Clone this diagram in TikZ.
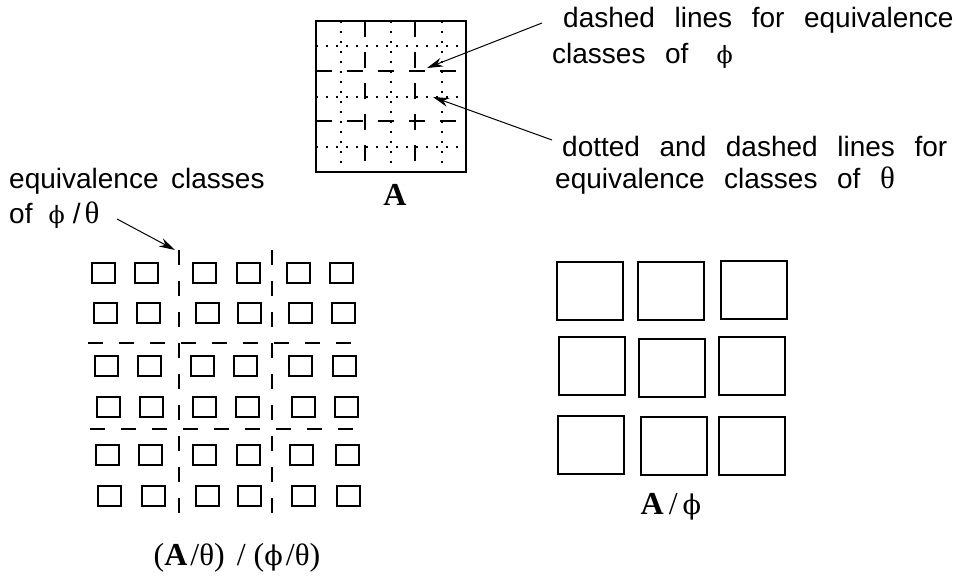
\documentclass[tikz,border=0pt]{standalone}
\usepackage{fontspec}
\setmainfont{Liberation Sans}
\newfontfamily\serifA{Liberation Serif}
\newfontfamily\grk{DejaVu Serif}[Scale=0.85]
\usetikzlibrary{arrows.meta}
\newcommand{\myphi}{{\grk ϕ}}
\newcommand{\mytheta}{{\serifA\fontsize{31}{36}\selectfont θ}}
\newcommand{\widesp}{\spaceskip=0.7em\relax}
\newcommand{\midsp}{\spaceskip=0.45em\relax}
\tikzset{
  lbl/.style={anchor=base west, inner sep=0pt, font=\fontsize{28}{36}\selectfont\widesp},
  lbll/.style={anchor=base west, inner sep=0pt, font=\fontsize{28}{36}\selectfont\midsp},
  serlbl/.style={anchor=base, inner sep=0pt, font=\fontsize{32}{38}\selectfont\serifA},
  frame/.style={line width=2.6pt},
  phidash/.style={line width=2.4pt, dash pattern=on 16pt off 15pt},
  thetadot/.style={line width=1.6pt, dash pattern=on 1.6pt off 8.4pt},
  griddash/.style={line width=2.2pt, dash pattern=on 15pt off 16pt},
  sq/.style={line width=2pt},
  bigsq/.style={line width=2.2pt},
  arr/.style={line width=1pt, -{Stealth[length=16pt,width=9pt]}},
}
\begin{document}
\begin{tikzpicture}[x=1pt,y=-1pt]
\useasboundingbox (0,0) rectangle (956,579);
% ---------- box A ----------
\foreach \v in {341,391,442} \draw[thetadot] (\v,21) -- (\v,172);
\foreach \h in {46,97,147} \draw[thetadot] (316,\h) -- (466,\h);
\foreach \v in {365,415} \draw[phidash] (\v,21) -- (\v,172);
\foreach \h in {71,121} \draw[phidash] (316,\h) -- (466,\h);
\draw[frame] (316,21) rectangle (466,172);
\node[serlbl] (A) at (395,205) {\bfseries A};
% ---------- labels top right ----------
\node[lbl] (t1) at (563,27) {dashed lines for equivalence};
\node[lbl] (t2) at (552,63) {classes of\hspace{28pt}\myphi};
\node[lbl] (t3) at (562,156) {dotted and dashed lines for};
\node[lbl] (t4) at (555,188) {equivalence classes of \mytheta};
\coordinate (a1s) at (542,23);
\coordinate (a1e) at (427,68);
\coordinate (a2s) at (552,140);
\coordinate (a2e) at (433,97);
\draw[arr] (a1s) -- (a1e);
\draw[arr] (a2s) -- (a2e);
% ---------- left label ----------
\node[lbll] (l1) at (9,188) {equivalence classes};
\node[lbll] (l2) at (9,223) {of\hspace{16pt}\myphi\hspace{8pt}/\hspace{4pt}\mytheta};
\coordinate (a3s) at (117,219);
\coordinate (a3e) at (175,250);
\draw[arr] (a3s) -- (a3e);
% ---------- left grid ----------
\foreach \v in {179,272} \draw[griddash] (\v,250) -- (\v,522);
\draw[griddash] (88,343) -- (360,343);
\draw[griddash] (90,429) -- (362,429);
\foreach \x/\y in {
 92/263,135/263,193/263,237/263,287/263,330/263,
 94/303,137/303,196/303,238/303,289/303,332/303,
 95/356,138/356,191/356,234/356,289/356,333/356,
 97/397,140/397,193/397,236/397,292/397,335/397,
 96/445,139/445,193/445,237/445,290/445,336/445,
 98/486,142/486,196/486,238/486,292/486,337/486}
  \draw[sq] (\x,\y) rectangle ++(23,20);
\node[serlbl] (bl) at (237,565) {(\textbf{A}\hspace{3pt}/\mytheta)\hspace{12pt}/\hspace{8pt}(\myphi\hspace{3pt}/\mytheta)};
% ---------- right big squares ----------
\foreach \x/\y in {
 557/262,638/262,721/261,
 559/337,639/339,719/337,
 558/416,641/417,719/417}
  \draw[bigsq] (\x,\y) rectangle ++(66,58);
\node[serlbl] (Aphi) at (671,514) {\textbf{A}\hspace{5pt}/\hspace{5pt}\myphi};
\end{tikzpicture}
\end{document}
